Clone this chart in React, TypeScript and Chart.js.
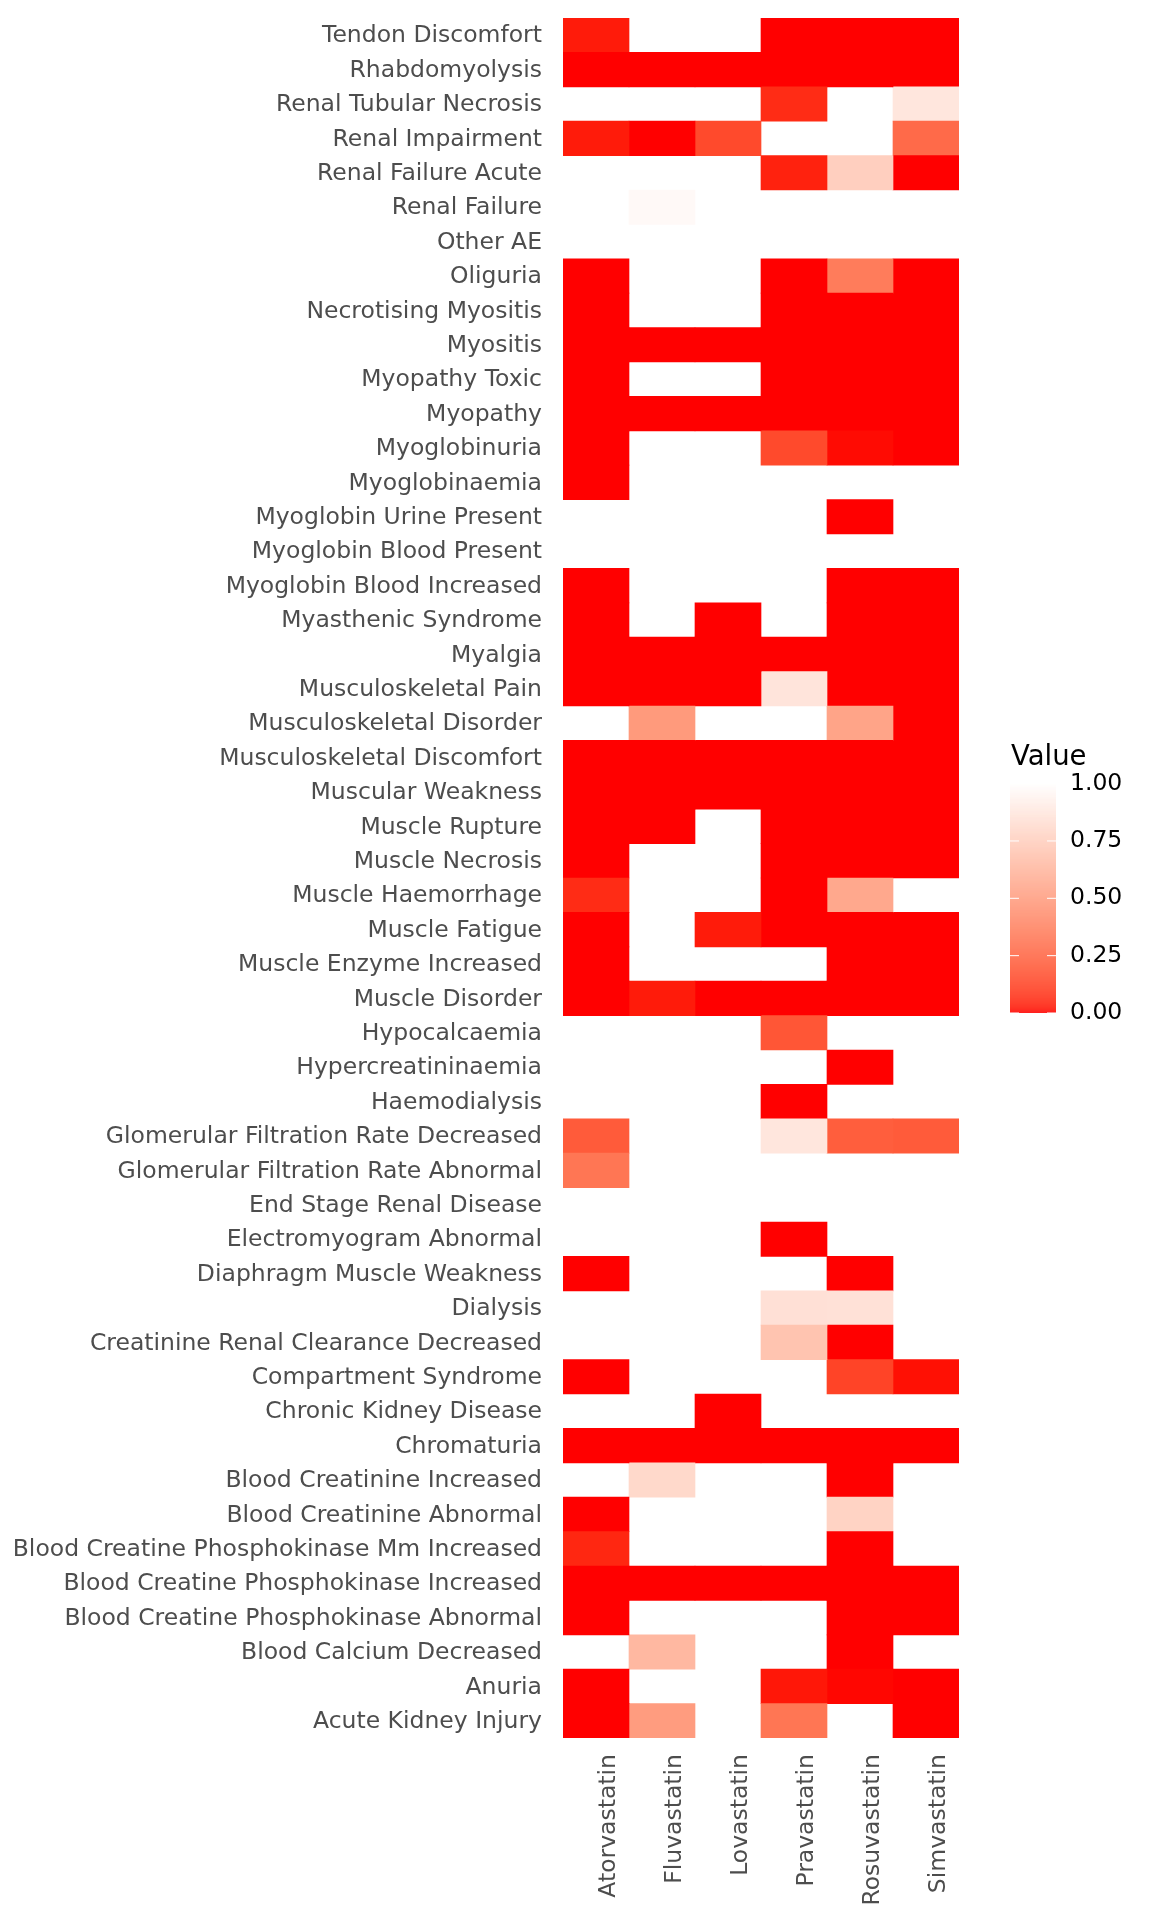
import React, { useEffect, useRef } from "react";
import { Chart, registerables } from "chart.js";

Chart.register(...registerables);

const n = null;

const categories = [
  "Tendon Discomfort",
  "Rhabdomyolysis",
  "Renal Tubular Necrosis",
  "Renal Impairment",
  "Renal Failure Acute",
  "Renal Failure",
  "Other AE",
  "Oliguria",
  "Necrotising Myositis",
  "Myositis",
  "Myopathy Toxic",
  "Myopathy",
  "Myoglobinuria",
  "Myoglobinaemia",
  "Myoglobin Urine Present",
  "Myoglobin Blood Present",
  "Myoglobin Blood Increased",
  "Myasthenic Syndrome",
  "Myalgia",
  "Musculoskeletal Pain",
  "Musculoskeletal Disorder",
  "Musculoskeletal Discomfort",
  "Muscular Weakness",
  "Muscle Rupture",
  "Muscle Necrosis",
  "Muscle Haemorrhage",
  "Muscle Fatigue",
  "Muscle Enzyme Increased",
  "Muscle Disorder",
  "Hypocalcaemia",
  "Hypercreatininaemia",
  "Haemodialysis",
  "Glomerular Filtration Rate Decreased",
  "Glomerular Filtration Rate Abnormal",
  "End Stage Renal Disease",
  "Electromyogram Abnormal",
  "Diaphragm Muscle Weakness",
  "Dialysis",
  "Creatinine Renal Clearance Decreased",
  "Compartment Syndrome",
  "Chronic Kidney Disease",
  "Chromaturia",
  "Blood Creatinine Increased",
  "Blood Creatinine Abnormal",
  "Blood Creatine Phosphokinase Mm Increased",
  "Blood Creatine Phosphokinase Increased",
  "Blood Creatine Phosphokinase Abnormal",
  "Blood Calcium Decreased",
  "Anuria",
  "Acute Kidney Injury",
];

const drugs = ["Atorvastatin", "Fluvastatin", "Lovastatin", "Pravastatin", "Rosuvastatin", "Simvastatin"];

const atorvastatin = [
  0.025, 0, n, 0.025, n, n, n, 0, 0, 0,
  0, 0, 0, 0, n, n, 0, 0, 0, 0,
  n, 0, 0, 0, 0, 0.055, 0, 0, 0, n,
  n, n, 0.2, 0.31, n, n, 0, n, n, 0,
  n, 0, n, 0, 0.045, 0, 0, n, 0, 0,
];
const fluvastatin = [
  n, 0, n, 0, n, 0.97, n, n, n, 0,
  n, 0, n, n, n, n, n, n, 0, 0,
  0.48, 0, 0, 0, n, n, n, n, 0.025, n,
  n, n, n, n, n, n, n, n, n, n,
  n, 0, 0.8, n, n, 0, n, 0.63, n, 0.49,
];
const lovastatin = [
  n, 0, n, 0.14, n, n, n, n, n, 0,
  n, 0, n, n, n, n, n, 0, 0, 0,
  n, 0, 0, n, n, n, 0.025, n, 0, n,
  n, n, n, n, n, n, n, n, n, n,
  0, 0, n, n, n, 0, n, n, n, n,
];
const pravastatin = [
  0, 0, 0.055, n, 0.035, n, n, 0, 0, 0,
  0, 0, 0.14, n, n, n, n, n, 0, 0.86,
  n, 0, 0, 0, 0, 0, 0, n, 0, 0.18,
  n, 0, 0.87, n, n, 0, n, 0.84, 0.69, n,
  n, 0, n, n, n, 0, n, n, 0.02, 0.31,
];
const rosuvastatin = [
  0, 0, n, n, 0.75, n, n, 0.34, 0, 0,
  0, 0, 0.008, n, 0, n, 0, 0, 0, 0,
  0.53, 0, 0, 0, 0, 0.55, 0, 0, 0, n,
  0, n, 0.21, n, n, n, 0, 0.845, 0, 0.12,
  n, 0, 0, 0.77, 0, 0, 0, 0, 0.004, n,
];
const simvastatin = [
  0, 0, 0.87, 0.26, 0, n, n, 0, 0, 0,
  0, 0, 0, n, n, n, 0, 0, 0, 0,
  0, 0, 0, 0, 0, n, 0, 0, 0, n,
  n, n, 0.2, n, n, n, n, n, n, 0.012,
  n, 0, n, n, n, 0, 0, n, 0, 0,
];

const legendTitle = "Value";
const legendTicks = [0, 0.25, 0.5, 0.75, 1];
const lowColor: [number, number, number] = [255, 0, 0];
const highColor: [number, number, number] = [255, 255, 255];

const drugValues = [atorvastatin, fluvastatin, lovastatin, pravastatin, rosuvastatin, simvastatin];

// ---- colour helpers (Lab interpolation, like ggplot's gradient) ----
function toLinear(c: number) {
  const v = c / 255;
  return v <= 0.04045 ? v / 12.92 : Math.pow((v + 0.055) / 1.055, 2.4);
}
function fromLinear(c: number) {
  const v = c <= 0.0031308 ? 12.92 * c : 1.055 * Math.pow(Math.max(c, 0), 1 / 2.4) - 0.055;
  return Math.round(Math.min(1, Math.max(0, v)) * 255);
}
const Xn = 0.95047, Yn = 1.0, Zn = 1.08883;
function rgbToLab(rgb: [number, number, number]) {
  const r = toLinear(rgb[0]), g = toLinear(rgb[1]), b = toLinear(rgb[2]);
  const X = 0.4124564 * r + 0.3575761 * g + 0.1804375 * b;
  const Y = 0.2126729 * r + 0.7151522 * g + 0.072175 * b;
  const Z = 0.0193339 * r + 0.119192 * g + 0.9503041 * b;
  const f = (t: number) => (t > 0.008856 ? Math.cbrt(t) : 7.787 * t + 16 / 116);
  const fx = f(X / Xn), fy = f(Y / Yn), fz = f(Z / Zn);
  return [116 * fy - 16, 500 * (fx - fy), 200 * (fy - fz)];
}
function labToRgb(lab: number[]) {
  const fy = (lab[0] + 16) / 116;
  const fx = fy + lab[1] / 500;
  const fz = fy - lab[2] / 200;
  const inv = (t: number) => (t ** 3 > 0.008856 ? t ** 3 : (t - 16 / 116) / 7.787);
  const X = inv(fx) * Xn, Y = inv(fy) * Yn, Z = inv(fz) * Zn;
  const r = 3.2404542 * X - 1.5371385 * Y - 0.4985314 * Z;
  const g = -0.969266 * X + 1.8760108 * Y + 0.041556 * Z;
  const b = 0.0556434 * X - 0.2040259 * Y + 1.0572252 * Z;
  return `rgb(${fromLinear(r)},${fromLinear(g)},${fromLinear(b)})`;
}
const lowLab = rgbToLab(lowColor);
const highLab = rgbToLab(highColor);
function colorFor(v: number) {
  const t = Math.min(1, Math.max(0, v));
  return labToRgb([0, 1, 2].map((i) => lowLab[i] + (highLab[i] - lowLab[i]) * t));
}

const FONT = "'DejaVu Sans', 'Liberation Sans', sans-serif";
const AXIS_TEXT = "#4D4D4D";

const colorbarPlugin = {
  id: "colorbar",
  afterDraw(chart: any) {
    const { ctx, chartArea } = chart;
    const midY = (chartArea.top + chartArea.bottom) / 2;
    const barX = chartArea.right + 51;
    const barW = 46;
    const barH = 229.4;
    const barTop = midY - 94.4;
    ctx.save();
    const steps = Math.ceil(barH);
    for (let i = 0; i < steps; i++) {
      const v = 1 - (i + 0.5) / barH;
      ctx.fillStyle = colorFor(v);
      const h = Math.min(1.2, barH - i);
      ctx.fillRect(barX, barTop + i, barW, h);
    }
    ctx.fillStyle = "#ffffff";
    legendTicks.forEach((t) => {
      const y = barTop + (1 - t) * barH;
      ctx.fillRect(barX, y - 0.5, 9, 1);
      ctx.fillRect(barX + barW - 9, y - 0.5, 9, 1);
    });
    ctx.fillStyle = "#000000";
    ctx.font = `23.5px ${FONT}`;
    ctx.textAlign = "left";
    ctx.textBaseline = "middle";
    legendTicks.forEach((t) => {
      const y = barTop + (1 - t) * barH;
      ctx.fillText(t.toFixed(2), barX + 60, y);
    });
    ctx.font = `27.5px ${FONT}`;
    ctx.textBaseline = "alphabetic";
    ctx.fillText(legendTitle, barX + 1, barTop - 18.6);
    ctx.restore();
  },
};

export default function App() {
  const ref = useRef<HTMLCanvasElement>(null);
  useEffect(() => {
    if (!ref.current) return;
    const datasets = drugs.map((name, j) => ({
      label: name,
      data: drugValues[j].map((v) => (v === null ? null : [j, j + 1])),
      backgroundColor: drugValues[j].map((v) => (v === null ? "rgba(0,0,0,0)" : colorFor(v as number))),
      borderWidth: 0,
      barPercentage: 1,
      categoryPercentage: 1,
      grouped: false,
      inflateAmount: 0.33,
    }));
    const chart = new Chart(ref.current, {
      type: "bar",
      data: { labels: categories, datasets: datasets as any },
      plugins: [colorbarPlugin],
      options: {
        responsive: false,
        animation: false,
        indexAxis: "y",
        layout: { padding: { left: 0, right: 193, top: 18, bottom: 0 } },
        plugins: {
          legend: { display: false },
          tooltip: { enabled: false },
        },
        scales: {
          x: {
            type: "linear",
            min: 0,
            max: drugs.length,
            position: "bottom",
            grid: { display: false, drawTicks: false },
            border: { display: false },
            afterBuildTicks: (scale: any) => {
              scale.ticks = drugs.map((_, i) => ({ value: i + 0.5 }));
            },
            afterFit: (scale: any) => {
              scale.height = 182;
              scale.paddingLeft = 0;
              scale.paddingRight = 0;
              scale.paddingTop = 0;
              scale.paddingBottom = 0;
            },
            ticks: {
              autoSkip: false,
              minRotation: 90,
              maxRotation: 90,
              padding: 16,
              labelOffset: 13,
              color: AXIS_TEXT,
              font: { family: FONT, size: 23.5 },
              callback: (_v: any, i: number) => drugs[i],
            },
          },
          y: {
            type: "category",
            grid: { display: false, drawTicks: false },
            border: { display: false },
            afterFit: (scale: any) => {
              scale.width = 563;
              scale.paddingTop = 0;
              scale.paddingBottom = 0;
              scale.paddingLeft = 0;
              scale.paddingRight = 0;
            },
            ticks: {
              autoSkip: false,
              padding: 21,
              labelOffset: 1,
              color: AXIS_TEXT,
              font: { family: FONT, size: 23.5 },
            },
          },
        },
      } as any,
    });
    return () => chart.destroy();
  }, []);
  return (
    <div style={{ position: "absolute", left: 0, top: 0, width: 1152, height: 1920, background: "#ffffff" }}>
      <canvas ref={ref} width={1152} height={1920} style={{ display: "block" }} />
    </div>
  );
}
